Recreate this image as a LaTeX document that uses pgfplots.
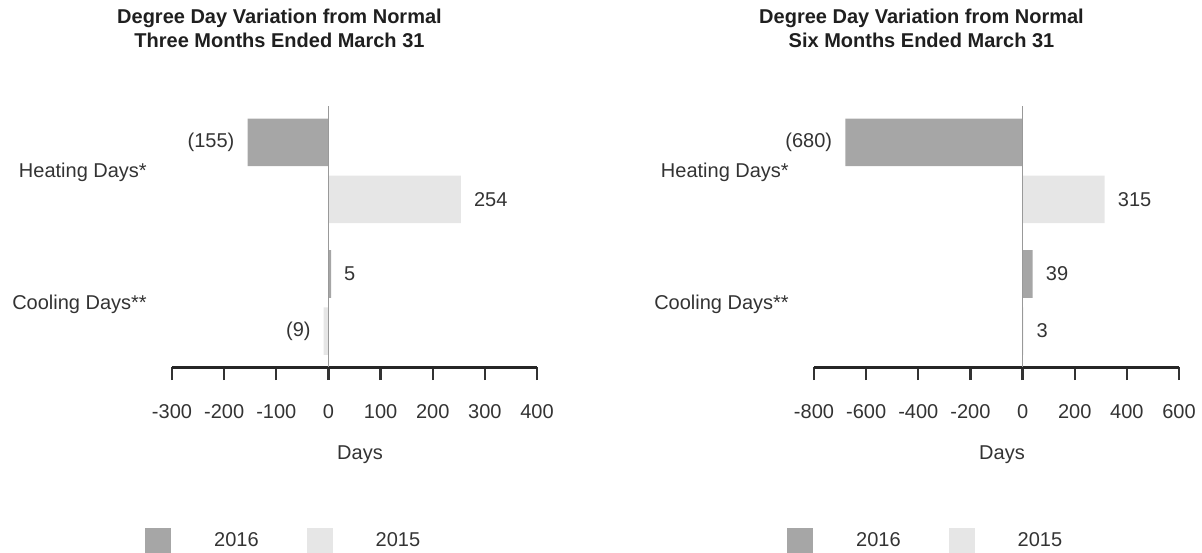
\documentclass[border=0pt]{standalone}
\usepackage{fontspec}
\setmainfont{Liberation Sans}
\usepackage{pgfplots}
\pgfplotsset{compat=1.18}
\definecolor{c16}{HTML}{A6A6A6}
\definecolor{c15}{HTML}{E6E6E6}
\definecolor{txt}{HTML}{333333}
\definecolor{ttl}{HTML}{1F1F1F}
\newcommand\fs{\fontsize{20}{24}\selectfont}
\pgfplotsset{
 ddstyle/.style={
  xbar, scale only axis, width=365pt, height=260.5pt,
  anchor=south west, clip=false,
  enlargelimits=false, ymin=0, ymax=260.5,
  ytick={64.5,196.1}, yticklabels={Cooling Days**,Heating Days*},
  axis x line*=bottom, axis y line*=left,
  y axis line style={draw=none},
  ytick style={draw=none},
  x axis line style={line width=3pt, color=black!85},
  xtick align=outside,
  major tick length=13pt,
  xtick style={line width=2.2pt, color=black!80},
  /pgf/number format/assume math mode=true,
  tick label style={font=\fs, text=txt, inner sep=0pt},
  xticklabel style={anchor=base, yshift=-38.3pt},
  yticklabel style={anchor=base east, xshift=-12pt, yshift=-6.5pt},
  xlabel={Days},
  xlabel style={font=\fs, text=txt, inner sep=0pt, anchor=base, at={(axis description cs:0.515,-0.3532)}},
  title style={font=\fontsize{20}{23.7}\selectfont\bfseries, text=ttl, inner sep=0pt, anchor=base, at={(axis description cs:0.2945,1.2046)}},
  bar width=47.5pt,
  nodes near coords, point meta=explicit symbolic,
  visualization depends on={rawx \as \rawx},
  nodes near coords style={font=\fs, text=txt, inner xsep=13pt, inner ysep=0pt,
    anchor=\ifdim\rawx pt<0pt east\else west\fi},
  legend image code/.code={\fill[##1] (0pt,-13pt) rectangle (26pt,13pt);},
  legend columns=2,
  legend style={draw=none, fill=none, inner sep=0pt, font=\fs, text=txt,
    at={(axis description cs:-0.074,-0.6668)}, anchor=west,
    /tikz/every odd column/.append style={column sep=41pt},
    /tikz/every even column/.append style={column sep=46pt}},
 }
}
\begin{document}
\begin{tikzpicture}
\useasboundingbox (0,0) rectangle (1202pt,552pt);
\begin{axis}[ddstyle, at={(172pt,185pt)}, xmin=-300, xmax=400,
  xtick={-300,-200,-100,0,100,200,300,400},
  title={\begin{tabular}[b]{@{}c@{}}Degree Day Variation from Normal\\Three Months Ended March 31\end{tabular}}]
\addplot[fill=c16, draw=none, bar shift=28.5pt] table[x=x, y=y, meta=lab] {
x y lab
-155 196.1 (155)
5 64.5 5
};
\addplot[fill=c15, draw=none, bar shift=-28.5pt] table[x=x, y=y, meta=lab] {
x y lab
254 196.1 254
-9 64.5 (9)
};
\draw[color=black!40, line width=1pt] (axis cs:0,0) -- (axis cs:0,260.5);
\legend{2016,2015}
\end{axis}
\begin{axis}[ddstyle, at={(814pt,185pt)}, xmin=-800, xmax=600,
  xtick={-800,-600,-400,-200,0,200,400,600},
  title={\begin{tabular}[b]{@{}c@{}}Degree Day Variation from Normal\\Six Months Ended March 31\end{tabular}}]
\addplot[fill=c16, draw=none, bar shift=28.5pt] table[x=x, y=y, meta=lab] {
x y lab
-680 196.1 (680)
39 64.5 39
};
\addplot[fill=c15, draw=none, bar shift=-28.5pt] table[x=x, y=y, meta=lab] {
x y lab
315 196.1 315
3 64.5 3
};
\draw[color=black!40, line width=1pt] (axis cs:0,0) -- (axis cs:0,260.5);
\legend{2016,2015}
\end{axis}
\end{tikzpicture}
\end{document}
